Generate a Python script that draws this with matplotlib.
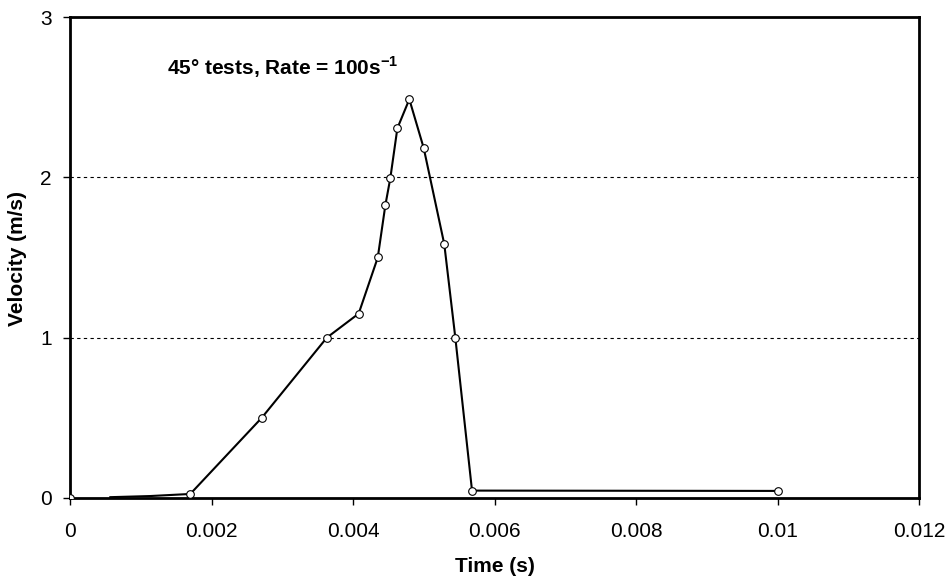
import numpy as np
import matplotlib.pyplot as plt

plt.rcParams['font.family'] = ['Liberation Sans', 'DejaVu Sans']

# Velocidad medida en el ensayo a 45 grados
tiempo = [0.0, 0.00057, 0.00113, 0.0017, 0.00271, 0.00363, 0.00408, 0.00435,
          0.004457, 0.004527, 0.004627, 0.004796, 0.004999, 0.00529,
          0.005446, 0.005682, 0.01]
velocidad = [0.0, 0.005, 0.012, 0.025, 0.50, 1.0, 1.15, 1.50,
             1.826, 1.994, 2.306, 2.487, 2.183, 1.583,
             1.0, 0.046, 0.044]
# puntos sin marcador (tramo inicial)
sin_marca = [1, 2]

marcas = [i for i in range(len(tiempo)) if i not in sin_marca]

fig = plt.figure(figsize=(9.51, 5.81), dpi=100)
ax = fig.add_axes([0.0736, 0.1429, 0.8928, 0.8278])

# la linea empieza despues del primer punto
ax.plot(tiempo[1:], velocidad[1:], color='black', lw=1.5, zorder=3)
ax.plot([tiempo[i] for i in marcas], [velocidad[i] for i in marcas],
        ls='none', marker='o', ms=5.5, mfc='white', mec='black', mew=0.8, zorder=4)

ax.set_xlim(0, 0.012)
ax.set_ylim(0, 3)
ax.set_xticks(np.arange(0, 0.0121, 0.002))
ax.set_xticklabels(['0', '0.002', '0.004', '0.006', '0.008', '0.01', '0.012'])
ax.set_yticks([0, 1, 2, 3])
ax.tick_params(direction='out', length=5, width=1, labelsize=15)
ax.tick_params(axis='x', pad=12)
ax.tick_params(axis='y', pad=8)

for y in [1, 2]:
    ax.axhline(y, color='black', lw=0.8, ls=(0, (3, 3)), zorder=1)

for s in ax.spines.values():
    s.set_linewidth(2)

ax.set_xlabel('Time (s)', fontsize=15, fontweight='bold', labelpad=12)
fig.text(18 / 951, 1 - 258 / 581, 'Velocity (m/s)', fontsize=15, fontweight='bold',
         rotation=90, ha='center', va='center')
ax.text(0.00137, 2.64, '45° tests, Rate = 100s$^{\\mathregular{-1}}$',
        fontsize=15, fontweight='bold')

plt.savefig('out.png')
